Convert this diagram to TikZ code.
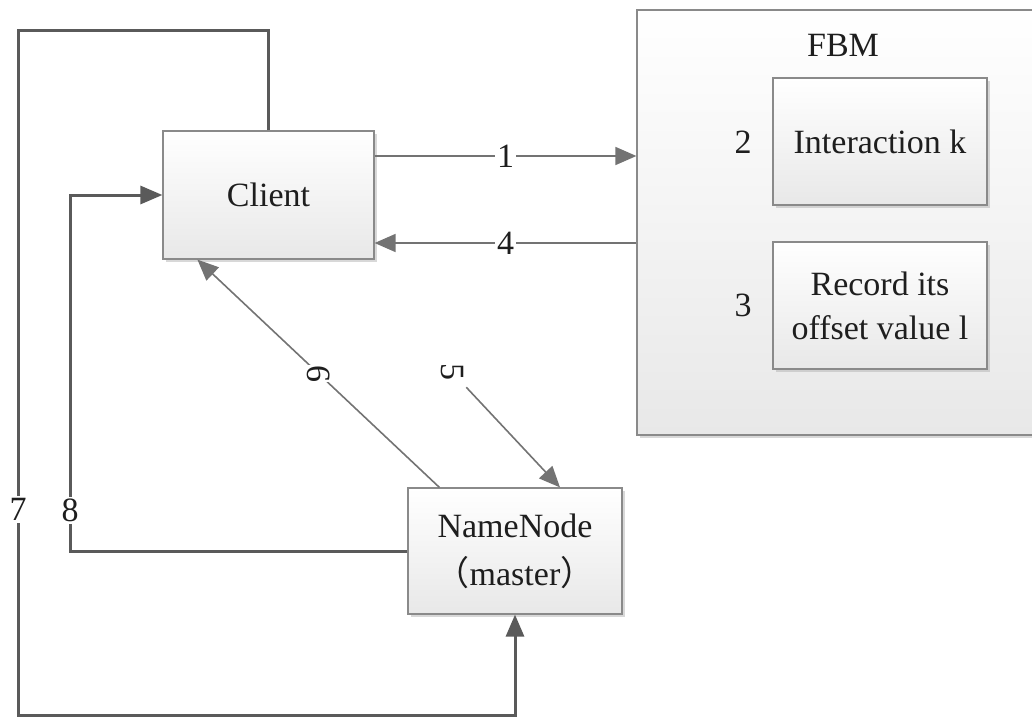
\documentclass[tikz,border=0pt]{standalone}
\usepackage{fontspec}
\setmainfont{Liberation Serif}
\newfontfamily\cjk{Noto Sans CJK SC}
\usetikzlibrary{arrows.meta,shadows,calc}

\definecolor{edge}{HTML}{8A8A8A}
\definecolor{wire}{HTML}{5A5A5A}
\definecolor{ink}{HTML}{1E1E1E}

\tikzset{
  box/.style={draw=edge, line width=1.2pt, top color=white, bottom color=black!9,
    drop shadow={shadow xshift=3pt, shadow yshift=-3pt, fill=black!30, opacity=.5},
    text=ink, align=center, inner sep=0pt},
  txt/.style={text=ink, inner sep=1pt, font=\fontsize{34}{44}\selectfont},
  lab/.style={txt, fill=white, inner sep=2pt},
  turned/.style={txt, rotate=-90, inner sep=0pt},
  thinarrow/.style={draw=wire!85, line width=1.6pt, -{Triangle[length=21pt,width=18pt]}},
  thickarrow/.style={draw=wire, line width=3pt, -{Triangle[length=22pt,width=18pt]}},
}

\begin{document}
\begin{tikzpicture}[x=1pt, y=-1pt]
  \useasboundingbox (0,0) rectangle (1032,718);
  \clip (0,0) rectangle (1032,718);

  % component boxes
  \node[box, minimum width=408pt, minimum height=425pt] (fbm) at (841,222.5) {};
  \node[txt] (fbmlab) at (843,45) {FBM};
  \node[box, minimum width=214pt, minimum height=127pt, font=\fontsize{34}{44}\selectfont] (inter) at (880,141.5) {Interaction k};
  \node[box, minimum width=214pt, minimum height=127pt, font=\fontsize{34}{44}\selectfont] (record) at (880,305.5) {Record its\\offset value l};
  \node[txt] (s2) at (743,142) {2};
  \node[txt] (s3) at (743,305) {3};

  \node[box, minimum width=211pt, minimum height=128pt, font=\fontsize{34}{44}\selectfont] (client) at (268.5,195) {Client};
  \node[box, minimum width=214pt, minimum height=126pt, font=\fontsize{34}{48}\selectfont] (namenode) at (515,551) {NameNode\\{\cjk （}master{\cjk ）}};

  % client <-> FBM
  \coordinate (a1) at ([yshift=39pt]client.east);
  \coordinate (a4) at ([yshift=-48pt]client.east);
  \draw[thinarrow] (a1) -- node[lab] {1} (a1 -| fbm.west);
  \draw[thinarrow] (a4 -| fbm.west) -- node[lab] {4} (a4);

  % client <-> NameNode
  \coordinate (n6) at ([xshift=32pt]namenode.north west);
  \coordinate (c6) at ([xshift=35pt]client.south west);
  \draw[thinarrow] (n6) -- node[turned, fill=white, pos=0.5] {6} (c6);
  \node[turned] (l5) at (452,372) {5};
  \draw[thinarrow, shorten <=9pt] (l5) -- ([xshift=45pt]namenode.north);

  % loops around the left side
  \draw[thickarrow] (client.north) -- (client.north |- 0,30) -- (18,30)
    -- node[lab, pos=0.7] {7} (18,715) -- (namenode.south |- 0,715) -- (namenode.south);
  \draw[thickarrow] (namenode.west) -- (70,551)
    -- node[lab, pos=0.115] {8} (70,195) -- (client.west);
\end{tikzpicture}
\end{document}
